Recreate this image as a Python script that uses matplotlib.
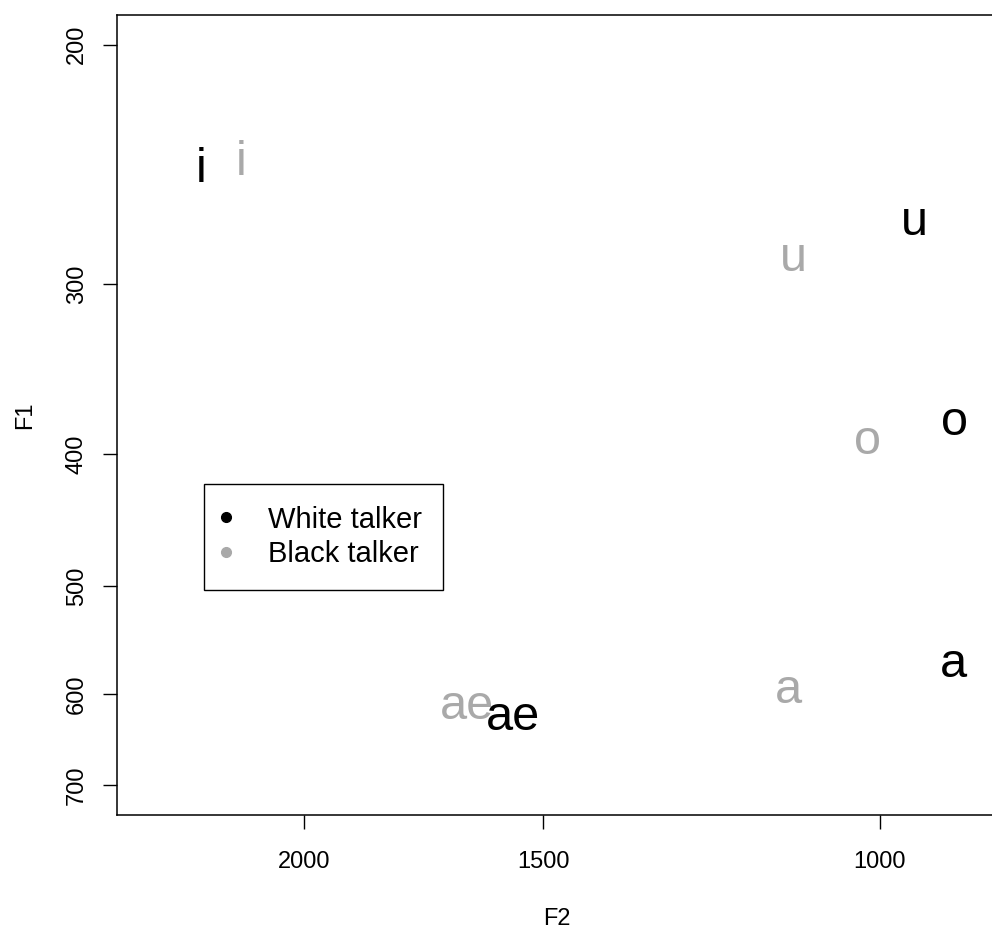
import numpy as np
import matplotlib
matplotlib.use("Agg")
import matplotlib.pyplot as plt
from matplotlib.lines import Line2D
from matplotlib.ticker import FixedLocator, NullLocator, FixedFormatter

plt.rcParams['font.family'] = ['Liberation Sans', 'DejaVu Sans']

# vowel means (Hz)
vowels = ['i', 'u', 'o', 'a', 'ae']
white_f2 = [2264, 959, 914, 915, 1555]
white_f1 = [245, 268, 376, 566, 619]
black_f2 = [2158, 1109, 1015, 1116, 1644]
black_f1 = [242, 285, 388, 591, 608]

x_ticks = [2000, 1500, 1000]
y_ticks = [200, 300, 400, 500, 600, 700]

XLIM = (2410, 903)
YLIM = (700, 200)

GRAY = '#A9A9A9'


def rlim(lo, hi, frac=0.04):
    # R style 4% padding on a log axis
    d = np.log(hi) - np.log(lo)
    return np.exp(np.log(lo) - frac * d), np.exp(np.log(hi) + frac * d)


fig = plt.figure(figsize=(9.92, 9.3), dpi=100)
ax = fig.add_axes([117/992, 115/930, 880/992, 800/930])
ax.set_xscale('log'); ax.set_yscale('log')
ax.set_xlim(*rlim(XLIM[0], XLIM[1]))
ax.set_ylim(*rlim(YLIM[0], YLIM[1]))

fs = 35
for lab, x, y in zip(vowels, white_f2, white_f1):
    ax.annotate(lab, (x, y), xytext=(0, -0.358*fs), textcoords='offset points',
                ha='center', va='baseline', fontsize=fs, color='black')
for lab, x, y in zip(vowels, black_f2, black_f1):
    ax.annotate(lab, (x, y), xytext=(0, -0.358*fs), textcoords='offset points',
                ha='center', va='baseline', fontsize=fs, color=GRAY, zorder=1)

ax.xaxis.set_major_locator(FixedLocator(x_ticks))
ax.xaxis.set_major_formatter(FixedFormatter([str(v) for v in x_ticks]))
ax.yaxis.set_major_locator(FixedLocator(y_ticks))
ax.yaxis.set_major_formatter(FixedFormatter([str(v) for v in y_ticks]))
ax.xaxis.set_minor_locator(NullLocator()); ax.yaxis.set_minor_locator(NullLocator())
ax.tick_params(length=10, width=1.0, labelsize=17, direction='out')
ax.tick_params(axis='x', pad=16)
ax.tick_params(axis='y', pad=11)
for t in ax.get_yticklabels():
    t.set_rotation(90); t.set_va('center')
for s in ax.spines.values():
    s.set_linewidth(1.1)

ax.set_xlabel('F2', fontsize=17)
ax.set_ylabel('F1', fontsize=17, ha='center', va='center')
ax.xaxis.set_label_coords(0.5, -93/800)
ax.yaxis.set_label_coords(-92/880, 0.5)

handles = [Line2D([], [], ls='none', marker='o', ms=7, color='black'),
           Line2D([], [], ls='none', marker='o', ms=7, color=GRAY)]
leg = ax.legend(handles, ['White talker', 'Black talker'], loc='upper left',
                bbox_to_anchor=(204/992, 1-484/930), bbox_transform=fig.transFigure,
                fontsize=21, frameon=True, fancybox=False, edgecolor='black',
                borderpad=0.74, handlelength=0.0, handletextpad=1.45,
                labelspacing=0.22, borderaxespad=0, framealpha=1)
leg.get_frame().set_linewidth(1.0)

fig.savefig('out.png', dpi=100)
